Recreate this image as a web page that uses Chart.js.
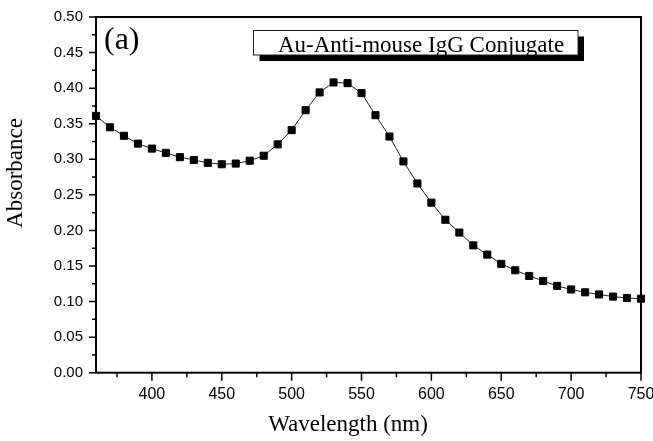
<!DOCTYPE html>
<html>
<head>
<meta charset="utf-8">
<script src="https://cdn.jsdelivr.net/npm/chart.js@4/dist/chart.umd.min.js"></script>
<style>
html,body{margin:0;padding:0;background:#fff;}
#wrap{width:653px;height:441px;position:relative;}
</style>
</head>
<body>
<div id="wrap"><canvas id="c" width="653" height="441"></canvas></div>
<script>
const wavelengths = [360,370,380,390,400,410,420,430,440,450,460,470,480,490,500,510,520,530,540,550,560,570,580,590,600,610,620,630,640,650,660,670,680,690,700,710,720,730,740,750];
const absorbance = [0.361,0.345,0.333,0.322,0.315,0.309,0.303,0.299,0.295,0.293,0.294,0.298,0.305,0.321,0.341,0.369,0.394,0.408,0.407,0.393,0.362,0.332,0.297,0.266,0.239,0.215,0.197,0.179,0.166,0.153,0.144,0.136,0.129,0.122,0.117,0.113,0.110,0.107,0.105,0.104];
const xTicks = [400,450,500,550,600,650,700,750];
const xMinorTicks = [375,425,475,525,575,625,675,725];
const yTicks = [0.00,0.05,0.10,0.15,0.20,0.25,0.30,0.35,0.40,0.45,0.50];
const yMinorTicks = [0.025,0.075,0.125,0.175,0.225,0.275,0.325,0.375,0.425,0.475];
const xTitle = 'Wavelength (nm)';
const yTitle = 'Absorbance';
const panelLabel = '(a)';
const legendText = 'Au-Anti-mouse IgG Conjugate';

const SERIF = '"Liberation Serif", "Times New Roman", serif';
const SANS = '"Liberation Sans", Arial, sans-serif';

const decor = {
  id: 'decor',
  beforeDatasetsDraw(chart) {
    const ctx = chart.ctx, a = chart.chartArea;
    const xs = chart.scales.x, ys = chart.scales.y;
    ctx.save();
    ctx.strokeStyle = '#000';
    ctx.lineWidth = 2;
    ctx.strokeRect(a.left, a.top, a.right - a.left, a.bottom - a.top);
    ctx.lineWidth = 1.5;
    ctx.beginPath();
    yTicks.forEach(v => { const y = ys.getPixelForValue(v); ctx.moveTo(a.left, y); ctx.lineTo(a.left - 7, y); });
    yMinorTicks.forEach(v => { const y = ys.getPixelForValue(v); ctx.moveTo(a.left, y); ctx.lineTo(a.left - 4, y); });
    xTicks.forEach(v => { const x = xs.getPixelForValue(v); ctx.moveTo(x, a.bottom); ctx.lineTo(x, a.bottom + 8); });
    xMinorTicks.forEach(v => { const x = xs.getPixelForValue(v); ctx.moveTo(x, a.bottom); ctx.lineTo(x, a.bottom + 4.5); });
    ctx.stroke();
    ctx.restore();
  },
  afterDraw(chart) {
    const ctx = chart.ctx, a = chart.chartArea;
    ctx.save();
    ctx.fillStyle = '#000';
    // axis titles
    ctx.font = '23px ' + SERIF;
    ctx.textAlign = 'center';
    ctx.textBaseline = 'alphabetic';
    ctx.fillText(xTitle, 348, 431);
    ctx.save();
    ctx.translate(22, 173);
    ctx.rotate(-Math.PI / 2);
    ctx.fillText(yTitle, 0, 0);
    ctx.restore();
    // panel label
    ctx.font = '32px ' + SERIF;
    ctx.textAlign = 'left';
    ctx.fillText(panelLabel, 104, 49);
    // legend box with shadow
    const bx = 253.5, by = 30.5, bw = 324.5, bh = 24.5;
    ctx.fillStyle = '#000';
    ctx.fillRect(bx + 6, by + 6, bw, bh);
    ctx.fillStyle = '#fff';
    ctx.fillRect(bx, by, bw, bh);
    ctx.strokeStyle = '#222';
    ctx.lineWidth = 1;
    ctx.strokeRect(bx, by, bw, bh);
    ctx.fillStyle = '#000';
    ctx.font = '23px ' + SERIF;
    ctx.textAlign = 'center';
    ctx.textBaseline = 'alphabetic';
    ctx.fillText(legendText, 421, 51.7);
    ctx.restore();
  }
};

new Chart(document.getElementById('c'), {
  type: 'line',
  data: {
    datasets: [{
      data: wavelengths.map((w, i) => ({x: w, y: absorbance[i]})),
      borderColor: '#222',
      borderWidth: 1,
      backgroundColor: '#000',
      pointStyle: 'rect',
      pointRadius: 5,
      pointBorderWidth: 1,
      pointBorderColor: '#000',
      pointBackgroundColor: '#000',
      tension: 0,
      clip: false
    }]
  },
  options: {
    responsive: false,
    animation: false,
    devicePixelRatio: 1,
    layout: { padding: { top: 17, right: 12, left: 0, bottom: 0 } },
    plugins: { legend: { display: false }, tooltip: { enabled: false }, title: { display: false } },
    scales: {
      x: {
        type: 'linear',
        min: 360, max: 750,
        afterBuildTicks: s => { s.ticks = xTicks.map(v => ({value: v})); },
        afterFit: s => { s.height = 68.3; s.paddingLeft = 0; s.paddingRight = 0; },
        grid: { display: false, drawTicks: false },
        border: { display: false },
        ticks: {
          color: '#000',
          font: { family: SANS, size: 16 },
          padding: 12,
          maxRotation: 0,
          autoSkip: false,
          callback: v => String(v)
        }
      },
      y: {
        type: 'linear',
        min: 0, max: 0.5,
        afterBuildTicks: s => { s.ticks = yTicks.map(v => ({value: v})); },
        afterFit: s => { s.width = 96; s.paddingTop = 0; s.paddingBottom = 0; },
        grid: { display: false, drawTicks: false },
        border: { display: false },
        ticks: {
          color: '#000',
          font: { family: SANS, size: 15 },
          padding: 13,
          autoSkip: false,
          callback: v => Number(v).toFixed(2)
        }
      }
    }
  },
  plugins: [decor]
});
</script>
</body>
</html>
